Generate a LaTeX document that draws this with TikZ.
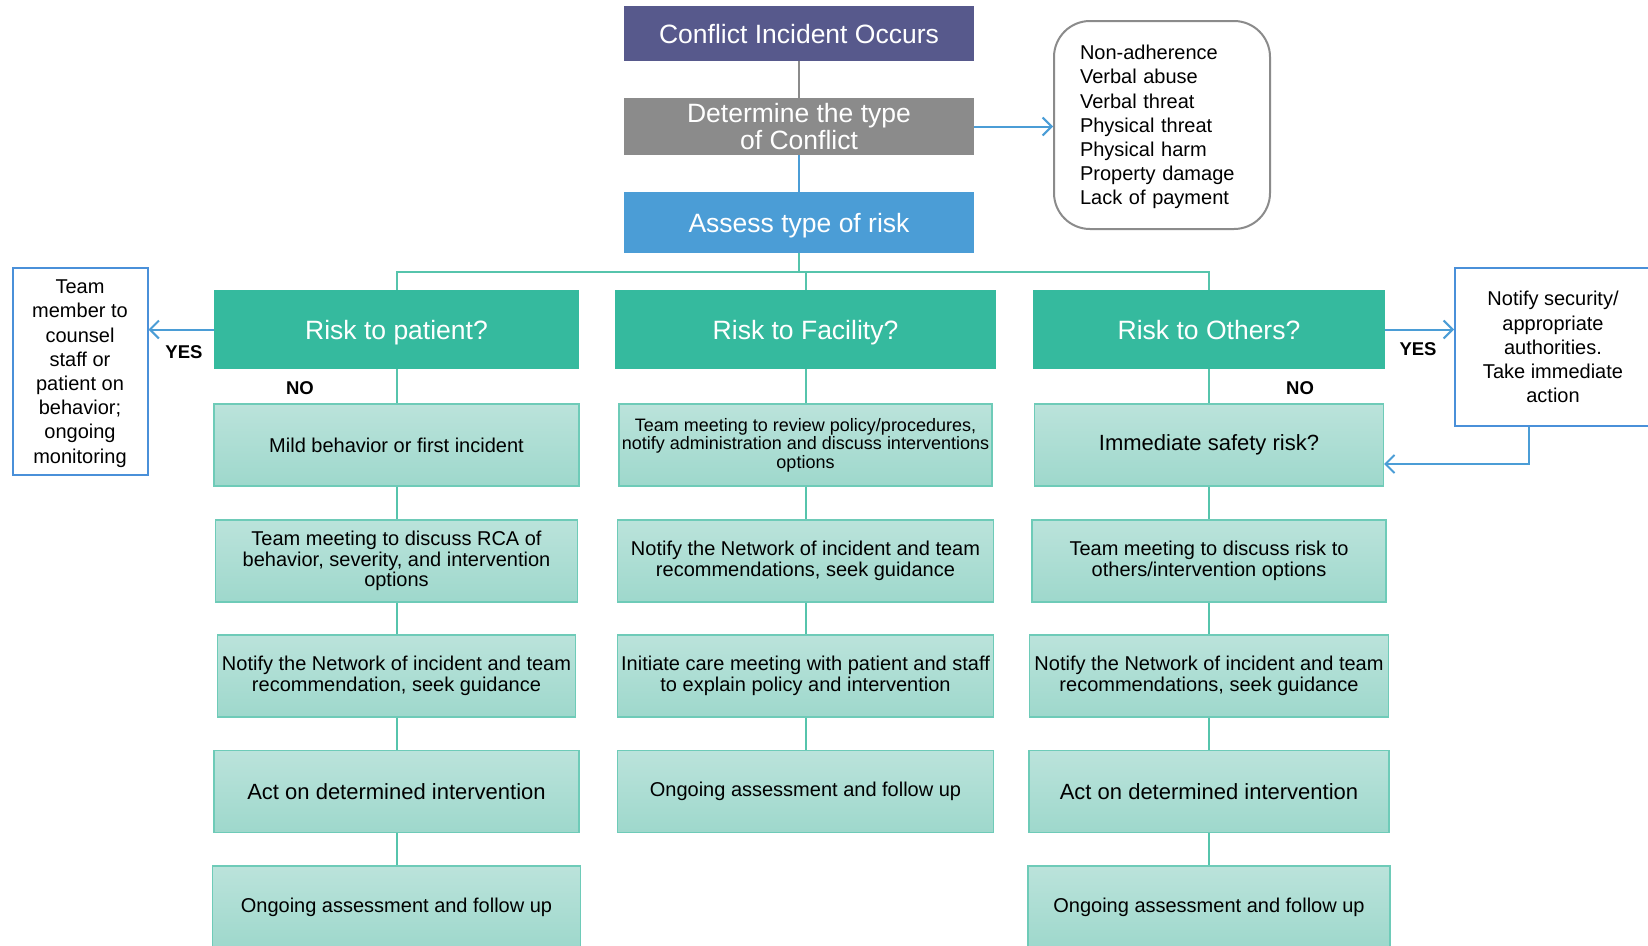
\documentclass[tikz,border=0pt]{standalone}
\usepackage{fontspec}
\setmainfont{Liberation Sans}
\usepackage{tikz}
\usetikzlibrary{arrows.meta,positioning}

\definecolor{incident}{RGB}{87,89,140}
\definecolor{typegray}{RGB}{139,139,139}
\definecolor{riskblue}{RGB}{75,157,214}
\definecolor{riskteal}{RGB}{53,186,158}
\definecolor{steptop}{RGB}{187,227,219}
\definecolor{stepbot}{RGB}{158,216,204}
\definecolor{stepline}{RGB}{110,203,184}
\definecolor{linkteal}{RGB}{86,196,172}
\definecolor{sideblue}{RGB}{74,144,217}

\begin{document}
\begin{tikzpicture}[x=1pt, y=-1pt,
	head/.style={minimum width=350pt, inner sep=0pt, text=white, align=center, font=\fontsize{26.5}{26.3}\selectfont},
	question/.style={fill=riskteal, minimum height=79pt, inner sep=0pt, text=white, text height=19pt, text depth=0pt, font=\fontsize{26.5}{27}\selectfont},
	stepbox/.style={draw=stepline, line width=1.2pt, top color=steptop, bottom color=stepbot, minimum height=82pt, inner sep=2pt, align=center, font=\fontsize{20}{20.5}\selectfont},
	bigstep/.style={stepbox, font=\fontsize{22}{24}\selectfont},
	sidenote/.style={draw=sideblue, line width=2pt, fill=white, align=center, inner sep=0pt, text depth=0pt, font=\fontsize{20}{24.2}\selectfont},
	answer/.style={font=\bfseries\fontsize{18.5}{20}\selectfont},
	link/.style={draw=linkteal, line width=2pt},
	pointer/.style={draw=riskblue, line width=2pt, -{Straight Barb[length=9pt, width=18pt, line width=2pt]}}]
	\useasboundingbox (0,0) rectangle (1648,945);
	% top of the chart
	\node[head, fill=incident, minimum height=55pt, text height=19pt, text depth=0pt] (incident) at (799,33.5) {Conflict Incident Occurs};
	\node[head, fill=typegray, minimum height=57pt] (type) at (799,126.5) {Determine the type\\of Conflict};
	\node[head, fill=riskblue, minimum height=61pt, text height=19pt, text depth=0pt] (assess) at (799,222.5) {Assess type of risk};
	\node[draw=typegray, line width=2pt, rounded corners=36pt, minimum width=216pt, minimum height=208pt, text width=164pt, inner xsep=26pt, align=left, text depth=145.2pt, font=\fontsize{20}{24.2}\selectfont] (kinds) at (1162,125) {Non-adherence\\Verbal abuse\\Verbal threat\\Physical threat\\Physical harm\\Property damage\\Lack of payment};
	% the three questions
	\node[question, minimum width=365pt] (patient) at (396.5,329.5) {Risk to patient?};
	\node[question, minimum width=381pt] (facility) at (805.5,329.5) {Risk to Facility?};
	\node[question, minimum width=352pt] (others) at (1209,329.5) {Risk to Others?};
	% patient column
	\node[stepbox, minimum width=365pt] (p1) at (396.5,445) {Mild behavior or first incident};
	\node[stepbox, minimum width=362pt] (p2) at (396.5,561) {Team meeting to discuss RCA of\\behavior, severity, and intervention\\options};
	\node[stepbox, minimum width=358pt] (p3) at (396.5,676) {Notify the Network of incident and team\\recommendation, seek guidance};
	\node[bigstep, minimum width=365pt] (p4) at (396.5,791.5) {Act on determined intervention};
	\node[stepbox, minimum width=368pt] (p5) at (396.5,907) {Ongoing assessment and follow up};
	% facility column
	\node[stepbox, minimum width=373pt, font=\fontsize{18}{18.4}\selectfont] (f1) at (805.5,445) {Team meeting to review policy/procedures,\\notify administration and discuss interventions\\options};
	\node[stepbox, minimum width=376pt] (f2) at (805.5,561) {Notify the Network of incident and team\\recommendations, seek guidance};
	\node[stepbox, minimum width=376pt] (f3) at (805.5,676) {Initiate care meeting with patient and staff\\to explain policy and intervention};
	\node[stepbox, minimum width=376pt] (f4) at (805.5,791.5) {Ongoing assessment and follow up};
	% others column
	\node[bigstep, minimum width=349pt] (o1) at (1209,445) {Immediate safety risk?};
	\node[stepbox, minimum width=354pt] (o2) at (1209,561) {Team meeting to discuss risk to\\others/intervention options};
	\node[stepbox, minimum width=359pt] (o3) at (1209,676) {Notify the Network of incident and team\\recommendations, seek guidance};
	\node[bigstep, minimum width=360pt] (o4) at (1209,791.5) {Act on determined intervention};
	\node[stepbox, minimum width=362pt] (o5) at (1209,907) {Ongoing assessment and follow up};
	% side boxes
	\node[sidenote, minimum width=135pt, minimum height=207pt] (counsel) at (80,371.5) {Team\\member to\\counsel\\staff or\\patient on\\behavior;\\ongoing\\monitoring};
	\node[sidenote, minimum width=196pt, minimum height=158pt] (security) at (1553,347) {Notify security/\\appropriate\\authorities.\\Take immediate\\action};
	\node[answer] (yesp) at (184,352) {YES};
	\node[answer] (nop) at (300,388) {NO};
	\node[answer] (yeso) at (1418,349) {YES};
	\node[answer] (noo) at (1300,388) {NO};
	% connectors
	\coordinate (fork) at (799,272);
	\draw[typegray, line width=2pt] (incident) -- (type);
	\draw[riskblue, line width=2pt] (type) -- (assess);
	\draw[pointer] (type.east) -- (type.east -| kinds.west);
	\draw[link] (assess.south) -- (fork);
	\draw[link] (patient.north) |- (fork) -| (others.north);
	\draw[link] (facility.north) -- (facility.north |- fork);
	\draw[link] (patient) -- (p1) (p1) -- (p2) (p2) -- (p3) (p3) -- (p4) (p4) -- (p5);
	\draw[link] (facility) -- (f1) (f1) -- (f2) (f2) -- (f3) (f3) -- (f4);
	\draw[link] (others) -- (o1) (o1) -- (o2) (o2) -- (o3) (o3) -- (o4) (o4) -- (o5);
	\draw[pointer] (patient.west) -- (patient.west -| counsel.east);
	\draw[pointer] (others.east) -- (others.east -| security.west);
	\draw[pointer] ([xshift=-24pt]security.south) |- ([yshift=-19pt]o1.east);
\end{tikzpicture}
\end{document}
